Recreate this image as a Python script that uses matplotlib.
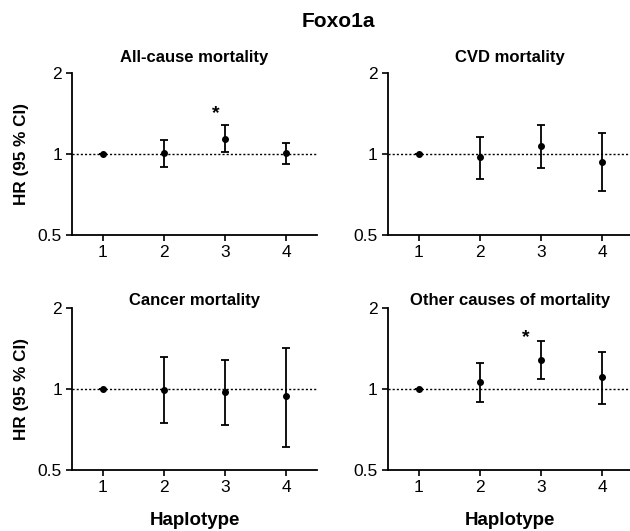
import numpy as np
import matplotlib.pyplot as plt
from matplotlib.ticker import FixedLocator, NullLocator

plt.rcParams['font.family'] = ['Liberation Sans', 'DejaVu Sans']

haplotypes = [1, 2, 3, 4]

titles = ['All-cause mortality', 'CVD mortality', 'Cancer mortality', 'Other causes of mortality']

# hazard ratios and 95% CI bounds per panel
hr_all = [1.00, 1.01, 1.14, 1.01]
lo_all = [1.00, 0.895, 1.014, 0.918]
hi_all = [1.00, 1.13, 1.28, 1.096]

hr_cvd = [1.00, 0.972, 1.071, 0.931]
lo_cvd = [1.00, 0.807, 0.887, 0.727]
hi_cvd = [1.00, 1.157, 1.28, 1.197]

hr_cancer = [1.00, 0.989, 0.977, 0.942]
lo_cancer = [1.00, 0.747, 0.737, 0.609]
hi_cancer = [1.00, 1.31, 1.285, 1.424]

hr_other = [1.00, 1.061, 1.281, 1.108]
lo_other = [1.00, 0.897, 1.089, 0.877]
hi_other = [1.00, 1.249, 1.508, 1.376]

# asterisks (x, y in data units) per panel
stars = [[(2.85, 1.31)], [], [], [(2.75, 1.45)]]

panels = [
    (hr_all, lo_all, hi_all),
    (hr_cvd, lo_cvd, hi_cvd),
    (hr_cancer, lo_cancer, hi_cancer),
    (hr_other, lo_other, hi_other),
]

fig = plt.figure(figsize=(6.3, 5.31), dpi=100)

ax_w = 0.388
ax_h = 0.305
lefts = [0.1148, 0.616, 0.1148, 0.616]
bottoms = [0.5574, 0.5574, 0.1149, 0.1149]
title_pads = [8, 8, 1, 1]

for i, (hr, lo, hi) in enumerate(panels):
    ax = fig.add_axes([lefts[i], bottoms[i], ax_w, ax_h])
    hr = np.array(hr)
    yerr = [hr - np.array(lo), np.array(hi) - hr]
    ax.axhline(1, color='black', linestyle=(0, (1.5, 1.5)), linewidth=1, zorder=1)
    ax.errorbar(haplotypes, hr, yerr=yerr, fmt='o', color='black', ms=4,
                capsize=3, elinewidth=1.3, capthick=1.3, zorder=3)
    for sx, sy in stars[i]:
        ax.text(sx, sy, '*', ha='center', va='bottom', fontsize=14, fontweight='bold')

    ax.set_yscale('log', base=2)
    ax.set_ylim(0.5, 2)
    ax.set_xlim(0.5, 4.5)
    ax.yaxis.set_major_locator(FixedLocator([0.5, 1, 2]))
    ax.yaxis.set_minor_locator(NullLocator())
    ax.set_yticklabels(['0.5', '1', '2'])
    ax.set_xticks(haplotypes)
    ax.tick_params(labelsize=12.5, length=4, width=1.2, direction='out')

    ax.spines['top'].set_visible(False)
    ax.spines['right'].set_visible(False)
    ax.spines['left'].set_linewidth(1.3)
    ax.spines['bottom'].set_linewidth(1.3)

    ax.set_title(titles[i], fontsize=12, fontweight='bold', pad=title_pads[i])
    if i in (0, 2):
        ax.set_ylabel('HR (95 % CI)', fontsize=12.3, fontweight='bold', labelpad=6)
    if i in (2, 3):
        ax.set_xlabel('Haplotype', fontsize=13.5, fontweight='bold', labelpad=12)

fig.text(0.537, 0.96, 'Foxo1a', ha='center', va='center', fontsize=15, fontweight='bold')

fig.savefig('out.png', dpi=100)
